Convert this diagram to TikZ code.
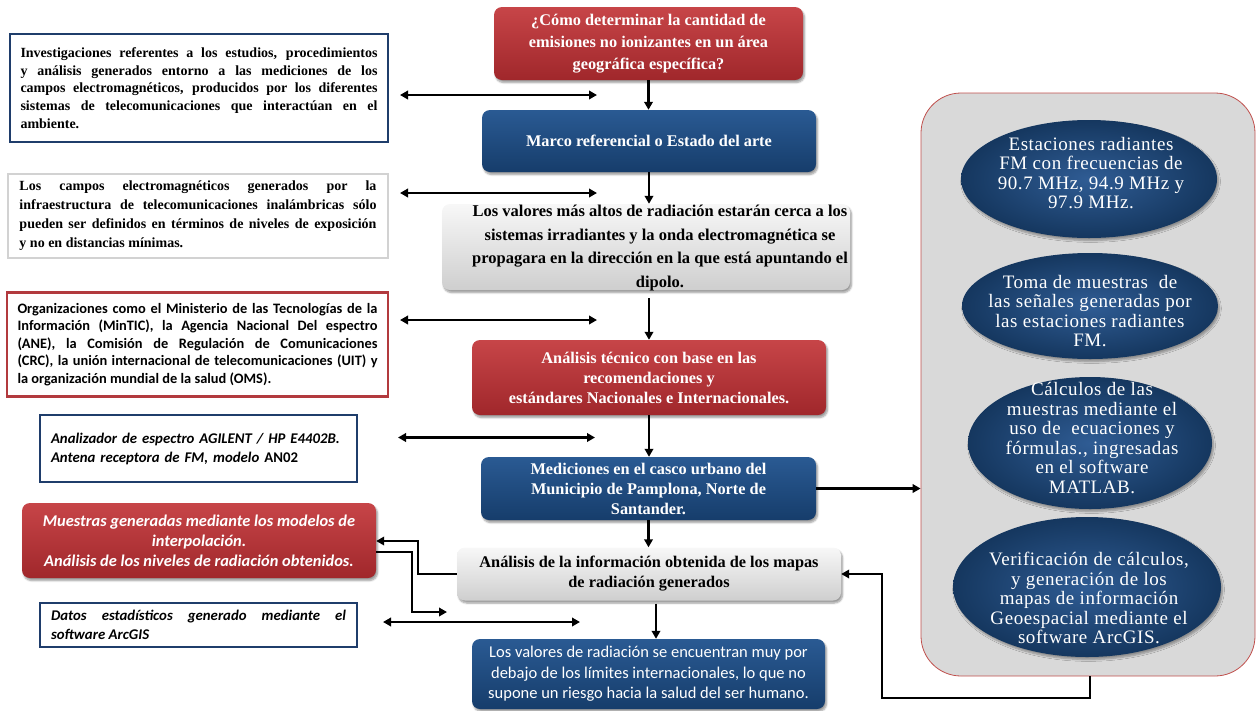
\documentclass[tikz,border=0pt]{standalone}
\usepackage{fontspec}
\setmainfont{Liberation Serif}
\newfontfamily\calfont{Carlito}
\newfontfamily\ovalfont[LetterSpace=3]{Liberation Serif}
\usetikzlibrary{arrows.meta,shapes.geometric,shadows.blur}

\definecolor{navy}{HTML}{1F3D6B}
\definecolor{redtop}{HTML}{C74548}
\definecolor{redbot}{HTML}{A0272B}
\definecolor{bluetop}{HTML}{2A5A93}
\definecolor{bluebot}{HTML}{163D6B}
\definecolor{framered}{HTML}{B23A3E}
\definecolor{framegrey}{HTML}{D2D2D2}
\definecolor{panelfill}{HTML}{D9D9D9}
\definecolor{panelline}{HTML}{C0504D}
\definecolor{ellin}{HTML}{2F5C94}
\definecolor{ellout}{HTML}{15375F}

\hyphenpenalty=10000
\exhyphenpenalty=10000

\tikzset{
  shade3d/.style={rounded corners=8pt,
    blur shadow={shadow xshift=1.5pt, shadow yshift=-2.5pt,
                 shadow blur steps=6, shadow opacity=40}},
  redbox/.style={shade3d, top color=redtop, bottom color=redbot, text=white},
  bluebox/.style={shade3d, top color=bluetop, bottom color=bluebot, text=white},
  greybox/.style={shade3d, top color=white!97!black, bottom color=black!19, text=black},
  headtext/.style={font=\bfseries\fontsize{16.3}{20}\selectfont, align=center},
  navyframe/.style={draw=navy, line width=2.6pt, fill=white},
  greyframe/.style={draw=framegrey, line width=2.6pt, fill=white},
  redframe/.style={draw=framered, line width=2.6pt, fill=white},
  oval/.style={ellipse, inner sep=0pt,
    inner color=ellin, outer color=ellout,
    blur shadow={shadow xshift=1.5pt, shadow yshift=-2.5pt,
                 shadow blur steps=6, shadow opacity=35}},
  ovaltext/.style={text=white, align=center, inner sep=0pt,
    font=\ovalfont\fontsize{19}{19.5}\selectfont},
  flowarrow/.style={draw=black, line width=2.4pt,
    -{Triangle[length=8pt,width=8.5pt]}},
  twoway/.style={draw=black, line width=2.4pt,
    {Triangle[length=8pt,width=8.5pt]}-{Triangle[length=8pt,width=8.5pt]}},
}

\begin{document}
\begin{tikzpicture}[x=1pt,y=-1pt]
\useasboundingbox (0,0) rectangle (1256,710);

% ---------- central flow ----------
\node[redbox, headtext, minimum width=309pt, minimum height=73pt, font=\bfseries\fontsize{16.3}{22}\selectfont]
  (q) at (648.5,43.5)
  {¿Cómo determinar la cantidad de\\emisiones no ionizantes en un área\\geográfica específica?};
\node[bluebox, headtext, minimum width=334pt, minimum height=62pt]
  (marco) at (649,141) {Marco referencial o Estado del arte};
\node[greybox, minimum width=408pt, minimum height=86pt]
  (valores) at (646,247) {};
\node[headtext, font=\bfseries\fontsize{16.5}{23.5}\selectfont, inner sep=0pt]
  (valorestext) at (660,248)
  {Los valores más altos de radiación estarán cerca a los\\sistemas irradiantes y la onda electromagnética se\\propagara en la dirección en la que está apuntando el\\dipolo.};
\node[redbox, headtext, minimum width=354pt, minimum height=75pt]
  (tecnico) at (649,377.5)
  {Análisis técnico con base en las\\recomendaciones y\\estándares Nacionales e Internacionales.};
\node[bluebox, headtext, minimum width=335pt, minimum height=63pt]
  (mediciones) at (648.5,488.5)
  {Mediciones en el casco urbano del\\Municipio de Pamplona, Norte de\\Santander.};
\node[greybox, headtext, minimum width=384pt, minimum height=53pt]
  (info) at (649,574)
  {Análisis de la información obtenida de los mapas\\de radiación generados};
\node[bluebox, align=center, minimum width=353pt, minimum height=70pt,
      font=\calfont\fontsize{16.5}{20.5}\selectfont]
  (final) at (648.5,674)
  {Los valores de radiación se encuentran muy por\\debajo de los límites internacionales, lo que no\\supone un riesgo hacia la salud del ser humano.};

% ---------- left column ----------
\node[navyframe, minimum width=378pt, minimum height=108pt, text width=357pt, align=justify,
      font=\bfseries\fontsize{14}{17.8}\selectfont]
  (investig) at (199,88)
  {Investigaciones referentes a los estudios, procedimientos\linebreak
   y análisis generados entorno a las mediciones de los\linebreak
   campos electromagnéticos, producidos por los diferentes\linebreak
   sistemas de telecomunicaciones que interactúan en el\linebreak
   ambiente.};
\node[greyframe, minimum width=380pt, minimum height=84pt, text width=357pt, align=justify,
      font=\bfseries\fontsize{14}{19}\selectfont]
  (campos) at (198,216)
  {Los campos electromagnéticos generados por la\linebreak
   infraestructura de telecomunicaciones inalámbricas sólo\linebreak
   pueden ser definidos en términos de niveles de exposición\linebreak
   y no en distancias mínimas.};
\node[redframe, minimum width=381pt, minimum height=104pt, text width=360pt, align=justify,
      font=\calfont\bfseries\fontsize{14.4}{17.6}\selectfont]
  (organiz) at (197.5,344.5)
  {Organizaciones como el Ministerio de las Tecnologías de la\linebreak
   Información (MinTIC), la Agencia Nacional Del espectro\linebreak
   (ANE), la Comisión de Regulación de Comunicaciones\linebreak
   (CRC), la unión internacional de telecomunicaciones (UIT) y\linebreak
   la organización mundial de la salud (OMS).};
\node[navyframe, minimum width=317pt, minimum height=67pt, text width=295pt, align=left,
      font=\calfont\bfseries\itshape\fontsize{14.8}{19}\selectfont]
  (equipos) at (198.5,448.5)
  {Analizador de espectro AGILENT / HP E4402B.\\
   Antena receptora de FM, modelo {\upshape AN02}};
\node[redbox, align=center, minimum width=354pt, minimum height=75pt,
      font=\calfont\bfseries\itshape\fontsize{16.4}{20}\selectfont]
  (muestras) at (199,540.5)
  {Muestras generadas mediante los modelos de\\interpolación.\\Análisis de los niveles de radiación obtenidos.};
\node[navyframe, minimum width=317pt, minimum height=44pt, text width=295pt, align=justify,
      font=\calfont\bfseries\itshape\fontsize{14.8}{19}\selectfont]
  (datos) at (198.5,625)
  {Datos estadísticos generado mediante el\linebreak software ArcGIS};

% ---------- right panel ----------
\node[draw=panelline, line width=0.8pt, fill=panelfill, rounded corners=40pt,
      minimum width=334pt, minimum height=583pt] (panel) at (1088,384.5) {};

\node[oval, minimum width=256pt, minimum height=118pt] (e1) at (1089,179) {};
\node[ovaltext] (e1t) at (1091,173)
  {Estaciones radiantes\\FM con frecuencias de\\90.7 MHz, 94.9 MHz y\\97.9 MHz.};
\node[oval, minimum width=256pt, minimum height=106pt] (e2) at (1090,306) {};
\node[ovaltext] (e2t) at (1090,311)
  {Toma de muestras\ \ de\\las señales generadas por\\las estaciones radiantes\\FM.};
\node[oval, minimum width=244pt, minimum height=132pt] (e3) at (1090,443) {};
\node[ovaltext] (e3t) at (1092,438)
  {Cálculos de las\\muestras mediante el\\uso de\ \ ecuaciones y\\fórmulas., ingresadas\\en el software\\MATLAB.};
\node[oval, minimum width=268pt, minimum height=140pt] (e4) at (1087,587) {};
\node[ovaltext] (e4t) at (1089,598)
  {Verificación de cálculos,\\y generación de los\\mapas de información\\Geoespacial mediante el\\software ArcGIS.};

% ---------- downward flow arrows ----------
\draw[flowarrow] (q.south) -- (q.south |- marco.north);
\draw[flowarrow] (marco.south) -- (marco.south |- valores.north);
\draw[flowarrow] ([yshift=-8pt]tecnico.north |- valores.south) -- (tecnico.north);
\draw[flowarrow] (tecnico.south) -- (tecnico.south |- mediciones.north);
\draw[flowarrow] (mediciones.south) -- (mediciones.south |- info.north);
\draw[flowarrow] ([xshift=7pt,yshift=-3pt]info.south) -- ([xshift=7pt]info.south |- final.north);

% ---------- two-way links beside the left column ----------
\coordinate (h1a) at (400,95);    \coordinate (h1b) at (597,95);
\coordinate (h2a) at (400,193);   \coordinate (h2b) at (597,193);
\coordinate (h3a) at (400,320);   \coordinate (h3b) at (597,320);
\coordinate (h4a) at (398,437.5); \coordinate (h4b) at (595,437.5);
\coordinate (h5a) at (383,622);   \coordinate (h5b) at (580,622);
\draw[twoway] (h1a) -- (h1b);
\draw[twoway] (h2a) -- (h2b);
\draw[twoway] (h3a) -- (h3b);
\draw[twoway] (h4a) -- (h4b);
\draw[twoway] (h5a) -- (h5b);

% ---------- links between the map analysis and the samples box ----------
\coordinate (j1) at (418,541);
\draw[flowarrow] (info.west) -| (j1) -- (j1 -| muestras.east);
\coordinate (j2) at (412,552);
\coordinate (k2) at (447,612);
\draw[flowarrow] (j2 -| muestras.east) -- (j2) |- (k2);

% ---------- links with the right panel ----------
\draw[flowarrow] (mediciones.east) -- (mediciones.east -| panel.west);
\coordinate (r1) at (1090,698);
\coordinate (r2) at (882,698);
\draw[flowarrow] (r1 |- panel.south) -- (r1) -- (r2) |- (info.east);
\end{tikzpicture}
\end{document}
